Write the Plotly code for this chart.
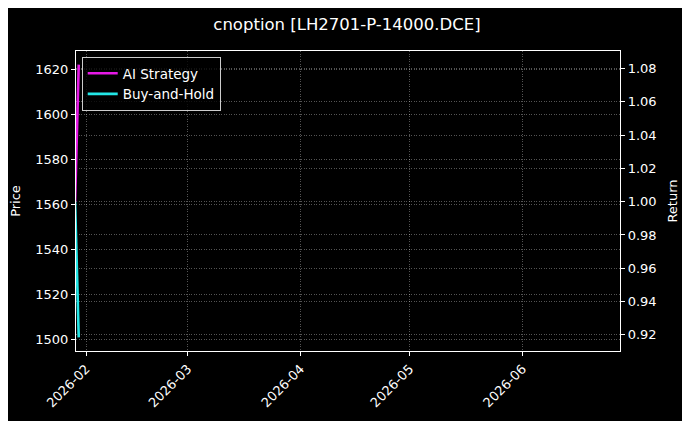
import plotly.graph_objects as go

# data
dates = ["2026-01-29", "2026-01-30"]
ai_strategy = [1.0, 1.0823]
buy_and_hold = [1.0, 0.9185]
price_ticks = [1500, 1520, 1540, 1560, 1580, 1600, 1620]
return_ticks = [0.92, 0.94, 0.96, 0.98, 1.00, 1.02, 1.04, 1.06, 1.08]
month_ticks = ["2026-02-01", "2026-03-01", "2026-04-01", "2026-05-01", "2026-06-01"]
month_labels = ["2026-02", "2026-03", "2026-04", "2026-05", "2026-06"]

FONT = "DejaVu Sans"
grid = "rgba(255,255,255,0.33)"
OFF = 8  # page body margin offset

fig = go.Figure()
# empty trace so the left price axis is drawn
fig.add_trace(go.Scatter(x=[], y=[], mode="lines", showlegend=False, hoverinfo="skip", yaxis="y"))
fig.add_trace(go.Scatter(x=dates, y=ai_strategy, mode="lines", name="AI Strategy",
                         line=dict(color="#e619e6", width=2.6), yaxis="y2"))
fig.add_trace(go.Scatter(x=dates, y=buy_and_hold, mode="lines", name="Buy-and-Hold",
                         line=dict(color="#22e6e6", width=2.6), yaxis="y2"))

axis_common = dict(showline=True, linecolor="white", linewidth=1.2, ticks="outside",
                   ticklen=4, tickcolor="white", tickwidth=1,
                   tickfont=dict(family=FONT, size=13, color="white"),
                   showgrid=True, gridcolor=grid, griddash="1px,1.5px", gridwidth=0.8,
                   zeroline=False, automargin=False)

fig.update_layout(
    width=690, height=421,
    paper_bgcolor="black", plot_bgcolor="black",
    margin=dict(l=76 - OFF, r=70 + OFF, t=51 - OFF, b=70 + OFF, autoexpand=False),
    font=dict(family=FONT, color="white"),
    title=dict(text="cnoption [LH2701-P-14000.DCE]", x=(347 - OFF) / 690, xanchor="center",
               y=1 - (24 - OFF) / 421, yref="container", yanchor="middle",
               font=dict(family=FONT, size=16.5, color="white")),
    xaxis=dict(axis_common, type="date", range=["2026-01-29 06:00", "2026-06-27 20:00"],
               tickvals=month_ticks, ticktext=month_labels, tickangle=-45, mirror=True),
    yaxis=dict(axis_common, range=[1494.8, 1628.1], tickvals=price_ticks,
               title=dict(text="Price", font=dict(family=FONT, size=13, color="white"), standoff=11)),
    yaxis2=dict(axis_common, range=[0.9103, 1.0905], tickvals=return_ticks,
                ticktext=[f"{v:.2f}" for v in return_ticks],
                overlaying="y", side="right",
                title=dict(text="Return", font=dict(family=FONT, size=13, color="white"), standoff=12)),
    legend=dict(x=0.0105, y=0.98, xanchor="left", yanchor="top",
                bgcolor="rgba(0,0,0,0.8)", bordercolor="rgba(255,255,255,0.8)", borderwidth=1,
                font=dict(family=FONT, size=13.5, color="white"), tracegroupgap=0),
    showlegend=True,
)

fig.write_html("out.html")
